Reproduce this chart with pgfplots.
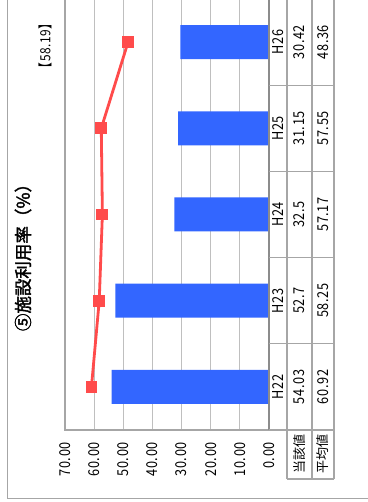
\documentclass[border=0pt]{standalone}
\usepackage{fontspec}
\setmainfont{Noto Sans CJK JP}
\newfontfamily\numfont{Noto Sans CJK JP}[FakeStretch=0.85, LetterSpace=4]
\newfontfamily\titlefont{Noto Sans CJK JP}[FakeBold=2]
\usepackage{pgfplots}
\pgfplotsset{compat=1.18}
\definecolor{barblue}{HTML}{3366FF}
\definecolor{linered}{HTML}{FF4B4B}
\definecolor{gridgray}{HTML}{BFBFBF}
\definecolor{framegray}{HTML}{A6A6A6}
\definecolor{axgray}{HTML}{8C8C8C}
\begin{document}
\begin{tikzpicture}[x=1pt,y=1pt]
\useasboundingbox (0,0) rectangle (367,502);
\fill[white] (0,0) rectangle (367,502);
\draw[framegray, line width=0.8pt] (7,4) rectangle (420,522);
\begin{axis}[
  at={(65pt,72pt)}, anchor=south west, scale only axis,
  width=204pt, height=431pt,
  xmin=0, xmax=70, x dir=reverse, ymin=-0.5, ymax=4.5,
  xtick={0,10,...,70}, ytick=\empty,
  xmajorgrids, grid style={gridgray, line width=1.2pt},
  major tick length=0pt,
  axis line style={framegray, line width=1.2pt},
  xticklabel={\pgfmathprintnumber[fixed,fixed zerofill,precision=2,assume math mode=true]{\tick}},
  x tick label style={rotate=90, anchor=east, inner sep=0pt, font=\numfont\fontsize{15}{15}\selectfont},
  xticklabel shift=12pt,
  clip=false,
]
\addplot[xbar, bar width=34pt, fill=barblue, draw=none]
  coordinates {(54.03,0) (52.7,1) (32.5,2) (31.15,3) (30.42,4)};
\addplot[linered, line width=2.8pt, mark=square*, mark size=4.5pt, mark options={solid}]
  coordinates {(60.92,0) (58.25,1) (57.17,2) (57.55,3) (48.36,4)};
\draw[axgray, line width=1.6pt] (axis cs:0,-0.5) -- (axis cs:0,4.5);
\end{axis}
% data table
\begin{scope}[framegray, line width=1.2pt]
  \draw (287,23) -- (287,505);
  \draw (312,23) -- (312,505);
  \draw (334,23) -- (334,505);
  \draw (287,23) -- (334,23);
  \foreach \yy in {72,158.2,244.4,330.6,416.8} {\draw (269,\yy) -- (334,\yy);}
\end{scope}
\begin{scope}[every node/.style={rotate=90, inner sep=0pt, font=\numfont\fontsize{15}{15}\selectfont}]
  \node at (278,115.1) {H22};
  \node at (278,201.3) {H23};
  \node at (278,287.5) {H24};
  \node at (278,373.7) {H25};
  \node at (278,459.9) {H26};
  \node at (299.5,115.1) {54.03};
  \node at (299.5,201.3) {52.7};
  \node at (299.5,287.5) {32.5};
  \node at (299.5,373.7) {31.15};
  \node at (299.5,459.9) {30.42};
  \node at (323,115.1) {60.92};
  \node at (323,201.3) {58.25};
  \node at (323,287.5) {57.17};
  \node at (323,373.7) {57.55};
  \node at (323,459.9) {48.36};
  \node[font=\fontsize{13}{13}\selectfont] at (299.5,47.5) {当該値};
  \node[font=\fontsize{13}{13}\selectfont] at (323,47.5) {平均値};
  \node[font=\numfont\fontsize{14}{14}\selectfont] at (45,456) {【58.19】};
  \node[font=\titlefont\fontsize{17.5}{17.5}\selectfont] at (23,249) {⑤施設利用率（\%）};
\end{scope}
\end{tikzpicture}
\end{document}
